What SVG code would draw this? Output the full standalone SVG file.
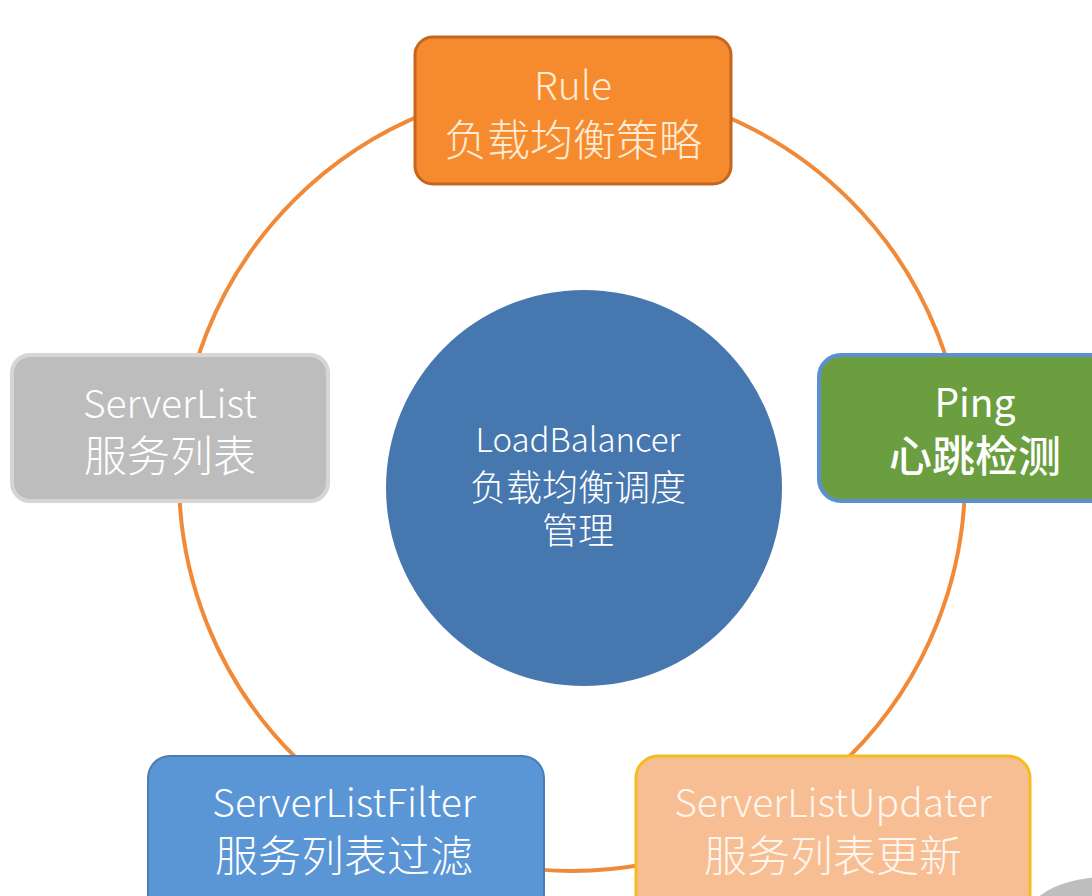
<svg xmlns="http://www.w3.org/2000/svg" width="1092" height="896" viewBox="0 0 1092 896">
<style>
text{font-family:"Noto Sans CJK SC","Noto Sans",sans-serif;text-anchor:middle;fill:#fff;font-weight:300}
.en{font-size:39px}
.zh{font-size:43px}
</style>
<rect width="1092" height="896" fill="#fff"/>
<g id="connectors">
<circle cx="572" cy="478" r="393" fill="none" stroke="#F08A38" stroke-width="4"/>
</g>
<g id="loadbalancer">
<circle cx="584" cy="488" r="198" fill="#4677AE"/>
<text x="578" y="452"><tspan x="578" style="font-size:33px">LoadBalancer</tspan><tspan x="578" dy="49" style="font-size:36px">负载均衡调度</tspan><tspan x="578" dy="43" style="font-size:36px">管理</tspan></text>
</g>
<g id="rule">
<rect x="415" y="37" width="316" height="147" rx="18" fill="#F58A2E" stroke="#C4661E" stroke-width="3"/>
<text x="573" y="100" style="fill:#FDEBD3"><tspan class="en" x="573">Rule</tspan><tspan class="zh" x="573" dy="56">负载均衡策略</tspan></text>
</g>
<g id="serverlist">
<rect x="12" y="355" width="316" height="146" rx="18" fill="#BDBDBD" stroke="#D6D6D6" stroke-width="4"/>
<text x="170" y="418"><tspan class="en" x="170">ServerList</tspan><tspan class="zh" x="170" dy="54">服务列表</tspan></text>
</g>
<g id="ping">
<rect x="819" y="355" width="316" height="146" rx="22" fill="#6A9E3F" stroke="#5B8FD1" stroke-width="4"/>
<text x="975" y="417"><tspan class="en" x="975" style="font-weight:400">Ping</tspan><tspan class="zh" x="975" dy="55" style="font-weight:500">心跳检测</tspan></text>
</g>
<g id="serverlistfilter">
<rect x="148" y="756" width="396" height="160" rx="22" fill="#5A96D6" stroke="#4A7DB8" stroke-width="2"/>
<text x="344" y="817"><tspan class="en" x="344">ServerListFilter</tspan><tspan class="zh" x="344" dy="55">服务列表过滤</tspan></text>
</g>
<g id="serverlistupdater">
<rect x="636" y="756" width="394" height="160" rx="22" fill="#F7BE94" stroke="#F5BC1E" stroke-width="3"/>
<text x="833" y="817" style="fill:#FFF6EE"><tspan class="en" x="833">ServerListUpdater</tspan><tspan class="zh" x="833" dy="55">服务列表更新</tspan></text>
</g>
<ellipse cx="1105" cy="925" rx="82" ry="48" fill="#BEBEBE"/>
</svg>
